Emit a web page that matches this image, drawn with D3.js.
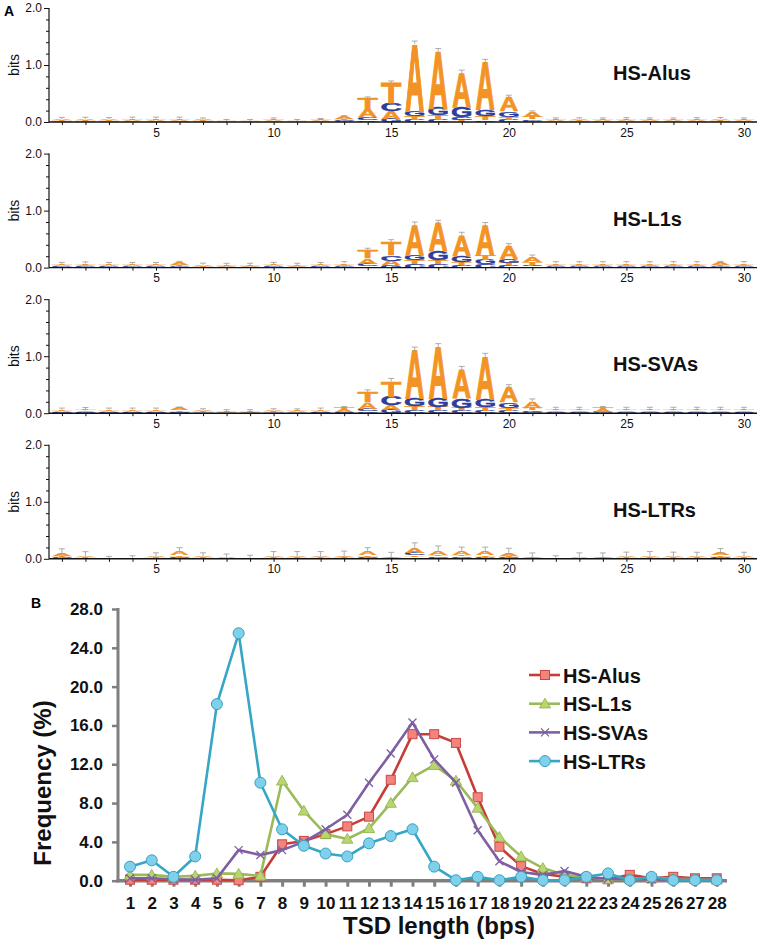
<!DOCTYPE html>
<html><head><meta charset="utf-8">
<script src="https://cdn.jsdelivr.net/npm/d3@7"></script>
<style>body{margin:0;background:#fff}</style>
</head><body><svg id="c" width="760" height="949"></svg>
<script>
// ---------- Panel A data ----------
const logoPositions = [1,2,3,4,5,6,7,8,9,10,11,12,13,14,15,16,17,18,19,20,21,22,23,24,25,26,27,28,29,30];
const logoTickLabels = [5,10,15,20,25,30];
const bitsTicks = [0,1,2];
const bitsMinorTicks = [0.2,0.4,0.6,0.8,1.2,1.4,1.6,1.8];
const logoNames = ["HS-Alus","HS-L1s","HS-SVAs","HS-LTRs"];
const bases = ["A","C","G","T"];
// heights in bits per position: [A, C, G, T]
const aluLogo = [
 [0.025,0.008,0.008,0.02],[0.025,0.008,0.008,0.022],[0.022,0.008,0.008,0.02],[0.025,0.008,0.008,0.025],
 [0.025,0.008,0.008,0.025],[0.025,0.008,0.008,0.025],[0.02,0.006,0.006,0.018],[0.008,0.004,0.004,0.008],
 [0.008,0.004,0.004,0.008],[0.02,0.006,0.006,0.02],[0.008,0.004,0.004,0.008],[0.015,0.006,0.006,0.015],
 [0.035,0.015,0.012,0.03],[0.13,0.05,0.03,0.2],[0.13,0.14,0.06,0.36],[1.17,0.04,0.1,0.07],
 [1.0,0.04,0.13,0.08],[0.6,0.05,0.18,0.04],[0.84,0.03,0.12,0.07],[0.25,0.04,0.1,0.05],
 [0.09,0.02,0.025,0.04],[0.02,0.006,0.006,0.02],[0.022,0.006,0.006,0.02],[0.02,0.006,0.006,0.02],
 [0.022,0.006,0.006,0.022],[0.02,0.006,0.006,0.02],[0.02,0.006,0.006,0.02],[0.022,0.006,0.006,0.022],
 [0.025,0.006,0.006,0.022],[0.02,0.006,0.006,0.02]];
const aluErr = [0.02,0.02,0.02,0.02,0.02,0.02,0.02,0.02,0.02,0.02,0.02,0.02,0.02,0.03,0.03,0.04,0.04,0.04,0.04,0.03,0.02,0.02,0.02,0.02,0.02,0.02,0.02,0.02,0.02,0.02];
const l1Logo = [
 [0.025,0.01,0.01,0.025],[0.03,0.01,0.01,0.03],[0.025,0.01,0.01,0.025],[0.025,0.01,0.01,0.025],
 [0.025,0.01,0.01,0.025],[0.035,0.012,0.012,0.03],[0.022,0.008,0.008,0.02],[0.02,0.008,0.008,0.02],
 [0.02,0.008,0.008,0.02],[0.025,0.01,0.01,0.025],[0.02,0.008,0.008,0.02],[0.025,0.01,0.01,0.025],
 [0.03,0.012,0.012,0.03],[0.1,0.04,0.03,0.14],[0.08,0.1,0.04,0.24],[0.54,0.07,0.08,0.07],
 [0.5,0.06,0.16,0.07],[0.37,0.05,0.11,0.05],[0.53,0.06,0.08,0.08],[0.24,0.04,0.07,0.04],
 [0.09,0.02,0.03,0.05],[0.03,0.012,0.012,0.03],[0.03,0.012,0.012,0.03],[0.03,0.012,0.012,0.03],
 [0.03,0.012,0.012,0.03],[0.03,0.012,0.012,0.03],[0.03,0.012,0.012,0.03],[0.03,0.012,0.012,0.03],
 [0.035,0.012,0.012,0.03],[0.03,0.012,0.012,0.03]];
const l1Err = [0.02,0.02,0.02,0.02,0.02,0.02,0.02,0.02,0.02,0.02,0.02,0.02,0.02,0.03,0.03,0.04,0.04,0.04,0.04,0.03,0.03,0.02,0.02,0.02,0.02,0.02,0.02,0.02,0.02,0.02];
const svaLogo = [
 [0.025,0.01,0.01,0.025],[0.03,0.01,0.01,0.03],[0.025,0.01,0.01,0.025],[0.025,0.01,0.01,0.025],
 [0.025,0.01,0.01,0.025],[0.035,0.012,0.012,0.03],[0.022,0.008,0.008,0.02],[0.015,0.006,0.006,0.015],
 [0.015,0.006,0.006,0.015],[0.022,0.008,0.008,0.02],[0.02,0.008,0.008,0.02],[0.025,0.01,0.01,0.025],
 [0.035,0.015,0.012,0.035],[0.12,0.05,0.03,0.18],[0.08,0.15,0.06,0.28],[0.85,0.05,0.14,0.07],
 [0.9,0.05,0.16,0.06],[0.5,0.05,0.17,0.05],[0.75,0.04,0.14,0.07],[0.27,0.04,0.1,0.05],
 [0.12,0.02,0.03,0.05],[0.03,0.012,0.012,0.03],[0.03,0.012,0.012,0.03],[0.035,0.014,0.014,0.035],
 [0.03,0.012,0.012,0.03],[0.03,0.012,0.012,0.03],[0.03,0.012,0.012,0.03],[0.03,0.012,0.012,0.03],
 [0.03,0.012,0.012,0.03],[0.03,0.012,0.012,0.03]];
const svaErr = [0.02,0.02,0.02,0.02,0.02,0.02,0.02,0.02,0.02,0.02,0.02,0.02,0.02,0.03,0.04,0.05,0.05,0.05,0.05,0.04,0.03,0.02,0.02,0.02,0.02,0.02,0.02,0.02,0.02,0.02];
const ltrLogo = [
 [0.04,0.015,0.01,0.02],[0.02,0.005,0.005,0.015],[0.005,0.002,0.002,0.004],[0.005,0.002,0.002,0.004],
 [0.02,0.005,0.005,0.015],[0.06,0.02,0.015,0.03],[0.02,0.005,0.005,0.015],[0.01,0.003,0.003,0.008],
 [0.005,0.002,0.002,0.004],[0.025,0.006,0.006,0.02],[0.025,0.006,0.006,0.02],[0.025,0.006,0.006,0.02],
 [0.03,0.008,0.008,0.02],[0.06,0.02,0.015,0.03],[0.015,0.004,0.004,0.01],[0.1,0.04,0.03,0.03],
 [0.07,0.025,0.02,0.03],[0.07,0.025,0.02,0.03],[0.07,0.02,0.02,0.025],[0.05,0.02,0.015,0.02],
 [0.015,0.004,0.004,0.01],[0.005,0.002,0.002,0.004],[0.01,0.003,0.003,0.008],[0.015,0.004,0.004,0.01],
 [0.025,0.006,0.006,0.02],[0.025,0.006,0.006,0.02],[0.025,0.006,0.006,0.02],[0.02,0.005,0.005,0.015],
 [0.05,0.02,0.015,0.025],[0.02,0.005,0.005,0.015]];
const ltrErr = [0.09,0.08,0.03,0.04,0.06,0.07,0.06,0.06,0.05,0.07,0.07,0.07,0.07,0.07,0.08,0.08,0.08,0.06,0.07,0.08,0.07,0.04,0.08,0.07,0.06,0.07,0.06,0.07,0.07,0.07];

// ---------- Panel B data ----------
const tsdLengths = [1,2,3,4,5,6,7,8,9,10,11,12,13,14,15,16,17,18,19,20,21,22,23,24,25,26,27,28];
const freqTicks = [0,4,8,12,16,20,24,28];
const seriesNames = ["HS-Alus","HS-L1s","HS-SVAs","HS-LTRs"];
const alus = [0.1,0.1,0.1,0.1,0.1,0.05,0.4,3.75,4.1,4.8,5.6,6.6,10.4,15.1,15.1,14.2,8.6,3.5,1.5,0.7,0.4,0.25,0.15,0.6,0.25,0.4,0.25,0.25];
const l1s  = [0.6,0.6,0.4,0.5,0.75,0.7,0.5,10.3,7.2,4.8,4.3,5.4,8.0,10.65,11.9,10.3,7.5,4.5,2.5,1.3,0.6,0.35,0.15,0.2,0.3,0.2,0.15,0.1];
const svas = [0.25,0.25,0.15,0.1,0.25,3.15,2.65,3.15,4.0,5.3,6.8,10.1,13.1,16.3,12.5,10.1,5.2,2.0,0.9,0.6,1.0,0.4,0.2,0.2,0.15,0.1,0.1,0.1];
const ltrs = [1.45,2.1,0.4,2.5,18.2,25.5,10.1,5.3,3.6,2.8,2.5,3.85,4.6,5.3,1.45,0.05,0.4,0.05,0.4,0.05,0.05,0.4,0.75,0.05,0.4,0.05,0.05,0.05];

// ---------- drawing ----------
const svg = d3.select("#c");
const FONT = "Liberation Sans, Arial, Helvetica, sans-serif";
const ORANGE = "#f39325", BLUE = "#2d3d9c";
const baseColor = {A:ORANGE, T:ORANGE, C:BLUE, G:BLUE};
const INK = {A:[0,72.2], C:[4.3,67], G:[4.5,72.5], T:[2.2,58.9]}; // ink extents per 100 units
const CAP = 71.6;

svg.append("text").attr("x",4).attr("y",16).text("A")
  .attr("font-family",FONT).attr("font-weight","bold").attr("font-size",14);

const logoSets = [
  {name:logoNames[0], data:aluLogo, err:aluErr},
  {name:logoNames[1], data:l1Logo, err:l1Err},
  {name:logoNames[2], data:svaLogo, err:svaErr},
  {name:logoNames[3], data:ltrLogo, err:ltrErr}];

const xL = d3.scaleLinear().domain([5,30]).range([156,744]);
const step = xL(2)-xL(1);
const letterW = step*0.8;

logoSets.forEach((set,i)=>{
  const y0 = 122 + i*145.6;
  const yL = d3.scaleLinear().domain([0,2]).range([y0, y0-114]);
  const g = svg.append("g");
  // letters
  logoPositions.forEach((p,pi)=>{
    const vals = bases.map((b,bi)=>({b, h:set.data[pi][bi]})).sort((a,b)=>a.h-b.h);
    let acc = 0;
    const xc = xL(p);
    vals.forEach(v=>{
      const yb = yL(acc), yt = yL(acc+v.h);
      const hpx = yb-yt;
      acc += v.h;
      if (hpx < 0.5) {
        // sub-pixel letter: draw as a faint smear
        g.append("rect").attr("x",xc-letterW/2).attr("y",yt).attr("width",letterW).attr("height",Math.max(hpx,0.1))
          .attr("fill",baseColor[v.b]).attr("opacity",0.5);
        return;
      }
      const [l,r] = INK[v.b];
      const sx = letterW/(r-l), sy = hpx/CAP;
      g.append("text").text(v.b)
        .attr("transform",`translate(${xc-letterW/2-l*sx},${yb}) scale(${sx},${sy})`)
        .attr("font-family",FONT).attr("font-weight","bold").attr("font-size",100)
        .attr("fill",baseColor[v.b]).attr("stroke",baseColor[v.b]).attr("stroke-width",3);
    });
    // error bar
    const e = set.err[pi];
    const yTop = yL(acc+e), yBot = yL(Math.max(0,acc-e*0.4));
    g.append("line").attr("x1",xc).attr("x2",xc).attr("y1",yBot).attr("y2",yTop)
      .attr("stroke","#999").attr("stroke-width",0.8);
    g.append("line").attr("x1",xc-3).attr("x2",xc+3).attr("y1",yTop).attr("y2",yTop)
      .attr("stroke","#999").attr("stroke-width",0.8);
  });
  // y axis
  const ya = g.append("g").attr("transform","translate(49,0)")
    .call(d3.axisLeft(yL).tickValues(bitsTicks).tickFormat(d3.format(".1f")).tickSize(5).tickPadding(2));
  ya.select(".domain").remove();
  ya.selectAll("text").attr("font-family",FONT).attr("font-size",12).attr("fill","#111");
  ya.selectAll("line").attr("stroke","#111");
  g.append("g").attr("transform","translate(49,0)")
    .call(d3.axisLeft(yL).tickValues(bitsMinorTicks).tickSize(3).tickFormat(""))
    .call(s=>{s.select(".domain").remove(); s.selectAll("text").remove(); s.selectAll("line").attr("stroke","#111");});
  g.append("line").attr("x1",49).attr("x2",49).attr("y1",y0).attr("y2",y0-114).attr("stroke","#111").attr("stroke-width",1.2);
  // x axis
  const xa = g.append("g").attr("transform",`translate(0,${y0})`)
    .call(d3.axisBottom(xL).tickValues(logoPositions).tickSize(3).tickPadding(3)
      .tickFormat(d=>logoTickLabels.includes(d)?d:""));
  xa.select(".domain").remove();
  xa.selectAll("text").filter(function(){return this.textContent==="";}).remove();
  xa.selectAll("text").attr("font-family",FONT).attr("font-size",12).attr("fill","#111");
  xa.selectAll("line").attr("stroke","#111");
  g.append("line").attr("x1",49).attr("x2",757).attr("y1",y0).attr("y2",y0).attr("stroke","#111").attr("stroke-width",1.4);
  // bits label
  g.append("text").attr("transform",`translate(19,${y0-57}) rotate(-90)`).attr("text-anchor","middle")
    .attr("font-family",FONT).attr("font-size",14).attr("fill","#111").text("bits");
  // name
  g.append("text").attr("x",613).attr("y",y0-42).text(set.name)
    .attr("font-family",FONT).attr("font-weight","bold").attr("font-size",20).attr("fill","#111");
});

// ---------- Panel B ----------
svg.append("text").attr("x",31).attr("y",608).text("B")
  .attr("font-family",FONT).attr("font-weight","bold").attr("font-size",14);

const xB = d3.scalePoint().domain(tsdLengths).range([130,716.7]);
const yB = d3.scaleLinear().domain([0,28]).range([880.7,609]);
const GRAY = "#7f7f7f";
const gB = svg.append("g");

// y axis
const yaB = gB.append("g").attr("transform","translate(118,0)")
  .call(d3.axisLeft(yB).tickValues(freqTicks).tickFormat(d3.format(".1f")).tickSize(6).tickPadding(9));
yaB.select(".domain").remove();
yaB.selectAll("line").attr("stroke",GRAY).attr("stroke-width",2.5);
yaB.selectAll("text").attr("font-family",FONT).attr("font-weight","bold").attr("font-size",17).attr("fill","#111");
gB.append("line").attr("x1",118).attr("x2",118).attr("y1",yB(0)+1.5).attr("y2",yB(28)-1)
  .attr("stroke",GRAY).attr("stroke-width",3);

// x axis
const xaB = gB.append("g").attr("transform",`translate(0,${yB(0)})`)
  .call(d3.axisBottom(xB).tickSize(6).tickPadding(10));
xaB.select(".domain").remove();
xaB.selectAll("line").attr("stroke",GRAY).attr("stroke-width",3);
xaB.selectAll("text").attr("font-family",FONT).attr("font-weight","bold").attr("font-size",17).attr("fill","#111");
gB.append("line").attr("x1",116.5).attr("x2",727).attr("y1",yB(0)).attr("y2",yB(0))
  .attr("stroke",GRAY).attr("stroke-width",3.5);

// axis titles
gB.append("text").attr("transform","translate(51,783) rotate(-90)").attr("text-anchor","middle")
  .attr("font-family",FONT).attr("font-weight","bold").attr("font-size",24).attr("fill","#111").text("Frequency (%)");
gB.append("text").attr("x",439).attr("y",934).attr("text-anchor","middle")
  .attr("font-family",FONT).attr("font-weight","bold").attr("font-size",24).attr("fill","#111").text("TSD length (bps)");

const series = [
  {name:seriesNames[0], vals:alus, line:"#c63d38", fill:"#f2837d", stroke:"#c94a45", marker:"square"},
  {name:seriesNames[1], vals:l1s,  line:"#9bbb59", fill:"#b9d56f", stroke:"#8fb04a", marker:"triangle"},
  {name:seriesNames[2], vals:svas, line:"#7e5fa2", fill:"none",    stroke:"#7e5fa2", marker:"x"},
  {name:seriesNames[3], vals:ltrs, line:"#35a7c5", fill:"#7fd0ea", stroke:"#3a9fc0", marker:"circle"}];

function drawMarker(g, s, cx, cy){
  if (s.marker==="square"){
    g.append("rect").attr("x",cx-4.5).attr("y",cy-4.5).attr("width",9).attr("height",9)
      .attr("fill",s.fill).attr("stroke",s.stroke).attr("stroke-width",1);
  } else if (s.marker==="triangle"){
    g.append("path").attr("d",d3.symbol(d3.symbolTriangle,55)())
      .attr("transform",`translate(${cx},${cy+1})`).attr("fill",s.fill).attr("stroke",s.stroke).attr("stroke-width",0.8);
  } else if (s.marker==="x"){
    g.append("path").attr("d",`M${cx-4},${cy-4}L${cx+4},${cy+4}M${cx-4},${cy+4}L${cx+4},${cy-4}`)
      .attr("stroke",s.stroke).attr("stroke-width",1.3).attr("fill","none");
  } else {
    g.append("circle").attr("cx",cx).attr("cy",cy).attr("r",5.5)
      .attr("fill",s.fill).attr("stroke",s.stroke).attr("stroke-width",1);
  }
}

const lineGen = d3.line().x((d,i)=>xB(tsdLengths[i])).y(d=>yB(d));
series.forEach(s=>{
  const g = gB.append("g");
  g.append("path").attr("d",lineGen(s.vals)).attr("fill","none")
    .attr("stroke",s.line).attr("stroke-width",2.6).attr("stroke-linejoin","round");
  s.vals.forEach((v,i)=>drawMarker(g,s,xB(tsdLengths[i]),yB(v)));
});

// legend
series.forEach((s,i)=>{
  const cy = 675 + i*28.7;
  const g = gB.append("g");
  g.append("line").attr("x1",529).attr("x2",560).attr("y1",cy).attr("y2",cy)
    .attr("stroke",s.line).attr("stroke-width",2.6);
  drawMarker(g,s,545,cy);
  g.append("text").attr("x",563).attr("y",cy+7.5).text(s.name)
    .attr("font-family",FONT).attr("font-weight","bold").attr("font-size",20).attr("fill","#111");
});
</script></body></html>
